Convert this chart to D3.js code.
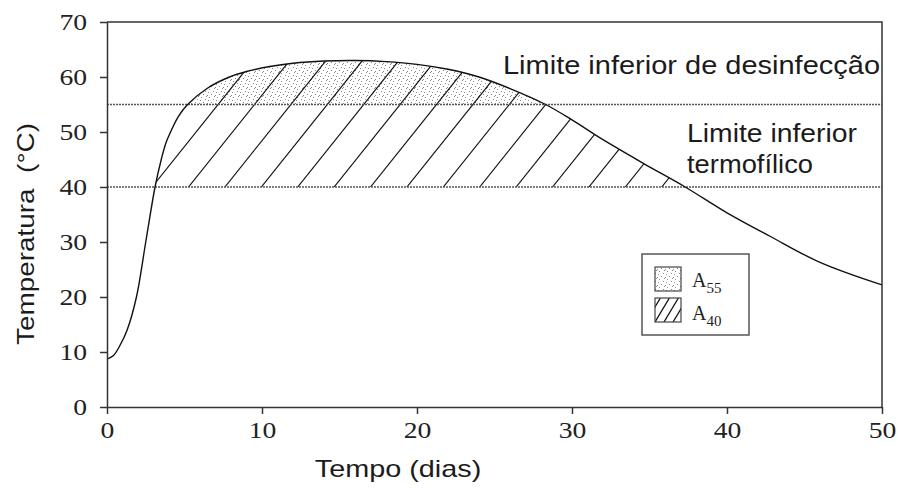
<!DOCTYPE html>
<html lang="pt">
<head>
  <meta charset="UTF-8">
  <title>Temperatura x Tempo</title>
  <script src="https://d3js.org/d3.v7.min.js"></script>
  <style>
    body { margin: 0; background: #fff; }
    .axis path, .axis line { stroke: #333; stroke-width: 1.5px; }
    .axis text { font-family: "Liberation Serif", "Times New Roman", serif !important; }
    .label { font-family: "Liberation Sans", Arial, sans-serif; fill: #1b1b1b; white-space: pre; }
    .limit { stroke: #555; stroke-width: 1.3px; stroke-dasharray: 2,1; }
  </style>
</head>
<body>
  <div id="chart"></div>
  <script>
    // curve: time (days) and temperature (°C)
    const days  = [0, 0.4, 0.8, 1.3, 1.9, 2.5, 3.1, 3.5, 3.8, 4.1, 4.6, 5.2, 6.5, 7.9, 9, 10.5, 12, 14, 16, 18, 20, 22, 24, 26, 28.3, 30, 32, 34.6, 37.3, 40, 42.8, 46, 50];
    const temps = [8.7, 9.3, 11, 14, 20, 30, 40, 45, 48, 50, 52.8, 55, 58, 60, 61, 61.9, 62.5, 62.9, 63, 62.8, 62.3, 61.4, 60, 57.9, 55, 52.2, 48.6, 44.3, 40, 35.3, 31, 26.3, 22.2];

    const xTicks = [0, 10, 20, 30, 40, 50];
    const yTicks = [0, 10, 20, 30, 40, 50, 60, 70];

    const limitDisinfection = 55;
    const limitThermophilic = 40;

    const legendKeys = [{ base: "A", sub: "55" }, { base: "A", sub: "40" }];

    const W = 898, H = 490;
    const x = d3.scaleLinear().domain([0, 50]).range([107, 882]);
    const y = d3.scaleLinear().domain([0, 70]).range([407, 22]);

    const serif = "Liberation Serif";

    const svg = d3.select("#chart").append("svg")
      .attr("width", W).attr("height", H);

    const data = days.map((d, i) => ({ d: d, t: temps[i] }));

    // stretch text horizontally like the source image
    function stretch(sel, k) {
      sel.each(function() {
        const w = this.getComputedTextLength();
        d3.select(this).attr("textLength", w * k).attr("lengthAdjust", "spacingAndGlyphs");
      });
    }

    const defs = svg.append("defs");

    // stipple texture
    const dots = [[1,1],[5,3],[3,6],[7,7],[0,4],[6,0]];
    const stip = defs.append("pattern").attr("id", "stipple")
      .attr("patternUnits", "userSpaceOnUse").attr("width", 8).attr("height", 8);
    stip.selectAll("rect").data(dots).enter().append("rect")
      .attr("x", d => d[0]).attr("y", d => d[1])
      .attr("width", 1).attr("height", 1).attr("fill", "#8a8a8a");

    const curve = d3.curveCatmullRom.alpha(0.5);

    const area40 = d3.area().curve(curve)
      .x(p => x(p.d)).y0(y(limitThermophilic)).y1(p => y(p.t));
    const area55 = d3.area().curve(curve)
      .x(p => x(p.d)).y0(y(limitDisinfection)).y1(p => y(p.t));

    defs.append("clipPath").attr("id", "clip40").append("path").datum(data).attr("d", area40);
    defs.append("clipPath").attr("id", "clip55").append("path").datum(data).attr("d", area55);
    defs.append("clipPath").attr("id", "above40").append("rect")
      .attr("x", x(0)).attr("y", y(70)).attr("width", x(50) - x(0)).attr("height", y(limitThermophilic) - y(70));
    defs.append("clipPath").attr("id", "above55").append("rect")
      .attr("x", x(0)).attr("y", y(70)).attr("width", x(50) - x(0)).attr("height", y(limitDisinfection) - y(70));

    // A55 stipple
    svg.append("g").attr("clip-path", "url(#above55)")
      .append("rect")
      .attr("clip-path", "url(#clip55)")
      .attr("x", x(0)).attr("y", y(70))
      .attr("width", x(50) - x(0)).attr("height", y(limitDisinfection) - y(70))
      .attr("fill", "url(#stipple)");

    // A40 hatch
    const slope = 0.8, spacing = 36.4, x0 = 188.5;
    const y40 = y(limitThermophilic), yTop = y(70);
    const hatch = svg.append("g").attr("clip-path", "url(#above40)")
      .append("g").attr("clip-path", "url(#clip40)");
    hatch.selectAll("line").data(d3.range(-3, 22)).enter().append("line")
      .attr("x1", k => x0 + k * spacing).attr("y1", y40)
      .attr("x2", k => x0 + k * spacing + slope * (y40 - yTop)).attr("y2", yTop)
      .attr("stroke", "#111").attr("stroke-width", 1.2);

    // limit lines
    svg.selectAll(".limit").data([limitDisinfection, limitThermophilic]).enter().append("line")
      .attr("class", "limit")
      .attr("x1", x(0)).attr("x2", x(50))
      .attr("y1", d => y(d)).attr("y2", d => y(d));

    // curve
    svg.append("path").datum(data)
      .attr("fill", "none").attr("stroke", "#111").attr("stroke-width", 1.4)
      .attr("d", d3.line().curve(curve).x(p => x(p.d)).y(p => y(p.t)));

    // frame
    svg.append("path")
      .attr("d", `M${x(0)},${y(70)}H${x(50)}V${y(0)}`)
      .attr("fill", "none").attr("stroke", "#333").attr("stroke-width", 1.5);

    // axes
    const gx = svg.append("g").attr("class", "axis")
      .attr("transform", `translate(0,${y(0)})`)
      .call(d3.axisBottom(x).tickValues(xTicks).tickSize(7).tickPadding(7).tickSizeOuter(0));
    const gy = svg.append("g").attr("class", "axis")
      .attr("transform", `translate(${x(0)},0)`)
      .call(d3.axisLeft(y).tickValues(yTicks).tickSize(7).tickPadding(13).tickSizeOuter(0));
    [gx, gy].forEach(g => g.attr("font-family", serif).attr("font-size", 24));
    svg.selectAll(".axis text")
      .attr("font-family", serif)
      .style("fill", "#222")
      .call(stretch, 1.15);

    // axis titles
    svg.append("text").attr("class", "label")
      .attr("x", 398).attr("y", 477).attr("text-anchor", "middle")
      .style("font-size", "24px").text("Tempo (dias)")
      .call(stretch, 1.2);
    svg.append("text").attr("class", "label")
      .attr("transform", "translate(34,345) rotate(-90)")
      .style("font-size", "24px").text("Temperatura  (°C)")
      .attr("textLength", 222).attr("lengthAdjust", "spacingAndGlyphs");

    // annotations
    svg.append("text").attr("class", "label")
      .attr("x", 503).attr("y", 73.5).style("font-size", "25px")
      .text("Limite inferior de desinfecção")
      .attr("textLength", 377).attr("lengthAdjust", "spacingAndGlyphs");
    svg.append("text").attr("class", "label")
      .attr("x", 687).attr("y", 142).style("font-size", "25px")
      .text("Limite inferior")
      .attr("textLength", 170).attr("lengthAdjust", "spacingAndGlyphs");
    svg.append("text").attr("class", "label")
      .attr("x", 687).attr("y", 173).style("font-size", "25px")
      .text("termofílico")
      .attr("textLength", 126).attr("lengthAdjust", "spacingAndGlyphs");

    // legend
    const lg = svg.append("g").attr("transform", "translate(642,254)");
    lg.append("rect").attr("width", 107).attr("height", 81)
      .attr("fill", "#fff").attr("stroke", "#555").attr("stroke-width", 1.5);

    defs.append("clipPath").attr("id", "swatchClip").append("rect")
      .attr("x", 13).attr("y", 44).attr("width", 26).attr("height", 24);

    lg.append("rect").attr("x", 13).attr("y", 13).attr("width", 26).attr("height", 24)
      .attr("fill", "url(#stipple)").attr("stroke", "#444").attr("stroke-width", 1.2);

    lg.append("g").attr("clip-path", "url(#swatchClip)")
      .selectAll("line").data(d3.range(-2, 4)).enter().append("line")
      .attr("x1", k => 13 + k * 9).attr("y1", 68)
      .attr("x2", k => 13 + k * 9 + 0.6 * 24).attr("y2", 44)
      .attr("stroke", "#111").attr("stroke-width", 1.3);
    lg.append("rect").attr("x", 13).attr("y", 44).attr("width", 26).attr("height", 24)
      .attr("fill", "none").attr("stroke", "#444").attr("stroke-width", 1.2);

    const lt = lg.selectAll(".lt").data(legendKeys).enter().append("text")
      .attr("class", "lt")
      .attr("x", 50).attr("y", (d, i) => 33 + i * 33)
      .attr("font-family", serif)
      .style("font-size", "20px").attr("fill", "#222");
    lt.append("tspan").text(d => d.base);
    lt.append("tspan").attr("dy", 6).style("font-size", "15px").text(d => d.sub);
  </script>
</body>
</html>
